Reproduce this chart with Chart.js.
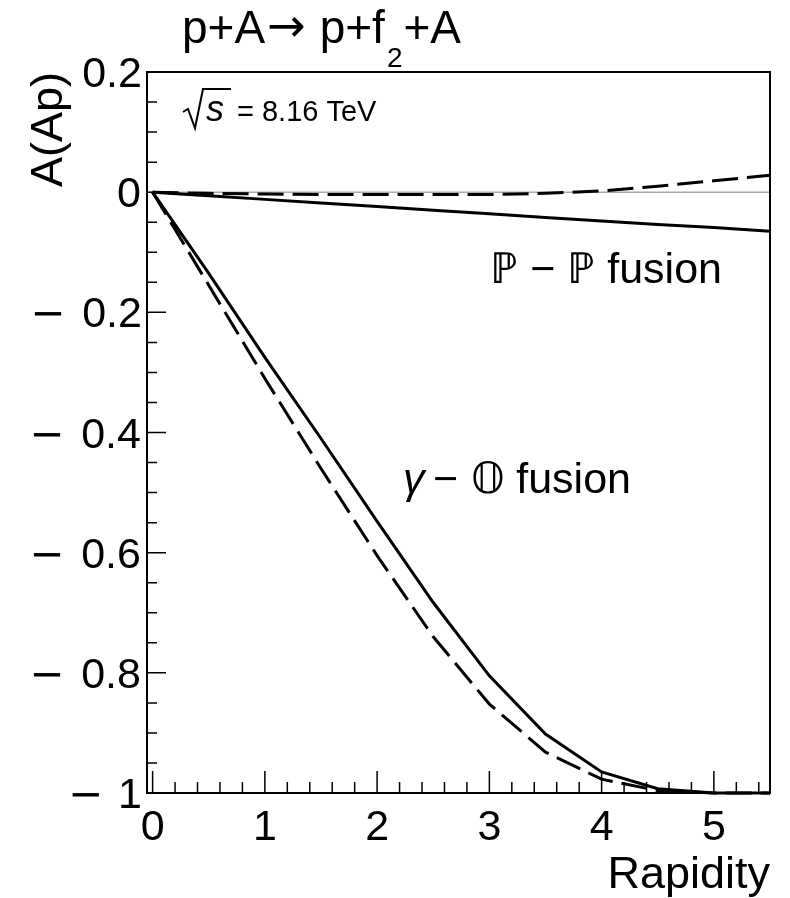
<!DOCTYPE html>
<html>
<head>
<meta charset="utf-8">
<title>p+A asymmetry</title>
<script src="https://cdn.jsdelivr.net/npm/chart.js@4.4.1/dist/chart.umd.min.js"></script>
<style>
  html, body { margin: 0; padding: 0; background: #fff; }
  #asymChart { display: block; }
</style>
</head>
<body>
<canvas id="asymChart" width="790" height="898"></canvas>
<script>
// rapidity grid and the four curves
const rapidity = [0, 0.5, 1, 1.5, 2, 2.5, 3, 3.5, 4, 4.5, 5, 5.5];
const pomSolid = [0, -0.006, -0.012, -0.018, -0.024, -0.030, -0.036, -0.042, -0.048, -0.054, -0.059, -0.065];
const pomDashed = [0, -0.002, -0.003, -0.004, -0.004, -0.004, -0.004, -0.002, 0.002, 0.010, 0.019, 0.028];
const odderonSolid = [0, -0.135, -0.275, -0.41, -0.548, -0.683, -0.805, -0.902, -0.965, -0.993, -1.0, -1.0];
const odderonDashed = [0, -0.155, -0.31, -0.46, -0.605, -0.74, -0.852, -0.932, -0.977, -0.996, -1.0, -1.0];

const xTicks = [0, 1, 2, 3, 4, 5];
const yTicks = [-1, -0.8, -0.6, -0.4, -0.2, 0, 0.2];
const xMin = -0.05, xMax = 5.5;
const yMin = -1, yMax = 0.2;

const FONT = '"Liberation Sans", Arial, Helvetica, sans-serif';

function toPoints(ys) {
    return rapidity.map((x, i) => ({ x: x, y: ys[i] }));
}

function lineSet(ys, dashed) {
    return {
        data: toPoints(ys),
        borderColor: '#000',
        borderWidth: 3,
        borderDash: dashed ? [26, 9] : [],
        pointRadius: 0,
        fill: false,
        tension: 0,
        clip: false
    };
}

// writes a run of [text, font, dy, extraGap] pieces left to right
function run(ctx, x, y, pieces) {
    pieces.forEach(p => {
        ctx.font = p[1];
        ctx.fillText(p[0], x, y + (p[2] || 0));
        x += ctx.measureText(p[0]).width + (p[3] || 0);
    });
    return x;
}

// frame, ROOT-like inner ticks, y labels with long minus, and all the text
const rootDecor = {
    id: 'rootDecor',
    afterDraw(chart) {
        const ctx = chart.ctx;
        const a = chart.chartArea;
        const xs = chart.scales.x, ys = chart.scales.y;
        ctx.save();
        ctx.strokeStyle = '#000';
        ctx.fillStyle = '#000';

        // frame
        ctx.lineWidth = 2;
        ctx.strokeRect(a.left, a.top, a.right - a.left, a.bottom - a.top);

        // ticks
        ctx.lineWidth = 1.5;
        ctx.beginPath();
        for (let i = 0; i <= 24; i++) {
            const py = ys.getPixelForValue(yMin + i * 0.05);
            const len = i % 4 === 0 ? 19 : 10;
            ctx.moveTo(a.left, py);
            ctx.lineTo(a.left + len, py);
        }
        for (let i = 0; i <= 27; i++) {
            const px = xs.getPixelForValue(i * 0.2);
            const len = i % 5 === 0 ? 22 : 11;
            ctx.moveTo(px, a.bottom);
            ctx.lineTo(px, a.bottom - len);
        }
        ctx.stroke();

        // y tick labels, right edge of the ink at a fixed distance from the frame
        ctx.textBaseline = 'alphabetic';
        ctx.textAlign = 'left';
        yTicks.forEach(v => {
            const py = ys.getPixelForValue(v) + 15;
            const digits = String(Math.abs(v));
            ctx.font = '43px ' + FONT;
            const m = ctx.measureText(digits);
            const ox = a.left - 7 - m.actualBoundingBoxRight;
            ctx.fillText(digits, ox, py);
            if (v < 0) {
                const inkLeft = ox - m.actualBoundingBoxLeft;
                ctx.font = '42px "DejaVu Sans", sans-serif';
                const mm = ctx.measureText('\u2212');
                ctx.fillText('\u2212', inkLeft - 22 - mm.actualBoundingBoxRight, py);
            }
        });

        // title  p+A -> p+f_2+A
        const big = '43px ' + FONT;
        const ttl = '46px ' + FONT;
        run(ctx, 182, 43, [
            ['p+A', ttl, 0, 2],
            ['\u2192', '46px "DejaVu Sans", sans-serif', -2, 14],
            ['p+f', ttl, 0, 2],
            ['2', '28px ' + FONT, 24, 1],
            ['+A', ttl]
        ]);

        // y title
        ctx.save();
        ctx.translate(62, a.top);
        ctx.rotate(-Math.PI / 2);
        ctx.textAlign = 'right';
        ctx.font = '45px ' + FONT;
        ctx.fillText('A(Ap)', 0, 0);
        ctx.restore();

        // x title
        ctx.textAlign = 'right';
        ctx.font = '45px ' + FONT;
        ctx.fillText('Rapidity', a.right, 888);

        // sqrt(s) = 8.16 TeV
        ctx.lineWidth = 2;
        ctx.beginPath();
        ctx.moveTo(183, 112);
        ctx.lineTo(188, 109);
        ctx.lineTo(195, 128);
        ctx.lineTo(203, 89);
        ctx.lineTo(231, 89);
        ctx.stroke();
        ctx.textAlign = 'left';
        ctx.font = 'italic 36px ' + FONT;
        ctx.fillText('s', 206, 121);
        ctx.font = '29px ' + FONT;
        ctx.fillText('= 8.16 TeV', 237, 121);

        // curve labels
        ctx.textAlign = 'right';
        ctx.font = big;
        ctx.fillText('\u2119 \u2212 \u2119 fusion', 722, 283);

        ctx.textAlign = 'left';
        ctx.font = 'italic 43px ' + FONT;
        ctx.fillText('\u03b3', 403, 493);
        ctx.font = big;
        ctx.fillText('\u2212', 433, 493);
        ctx.fillText('\ud835\udd46', 471, 493);
        ctx.textAlign = 'right';
        ctx.fillText('fusion', 631, 493);

        ctx.restore();
    }
};

new Chart(document.getElementById('asymChart').getContext('2d'), {
    type: 'line',
    data: {
        datasets: [
            lineSet(pomSolid, false),
            lineSet(pomDashed, true),
            lineSet(odderonSolid, false),
            lineSet(odderonDashed, true),
            {
                data: [{ x: xMin, y: 0 }, { x: xMax, y: 0 }],
                borderColor: '#808080',
                borderWidth: 1,
                pointRadius: 0,
                fill: false
            }
        ]
    },
    options: {
        responsive: false,
        animation: false,
        layout: { padding: { top: 72, right: 20, left: 0, bottom: 0 } },
        plugins: {
            legend: { display: false },
            tooltip: { enabled: false }
        },
        scales: {
            x: {
                type: 'linear',
                min: xMin,
                max: xMax,
                grid: { display: false, drawTicks: false },
                border: { display: false },
                afterBuildTicks: s => { s.ticks = xTicks.map(v => ({ value: v })); },
                afterFit: s => { s.height = 105; },
                ticks: {
                    color: '#000',
                    font: { family: FONT, size: 43 },
                    padding: 9,
                    maxRotation: 0,
                    autoSkip: false,
                    callback: v => String(v)
                }
            },
            y: {
                type: 'linear',
                min: yMin,
                max: yMax,
                grid: { display: false, drawTicks: false },
                border: { display: false },
                afterBuildTicks: s => { s.ticks = yTicks.map(v => ({ value: v })); },
                afterFit: s => { s.width = 147; },
                ticks: { display: false }
            }
        }
    },
    plugins: [rootDecor]
});
</script>
</body>
</html>
